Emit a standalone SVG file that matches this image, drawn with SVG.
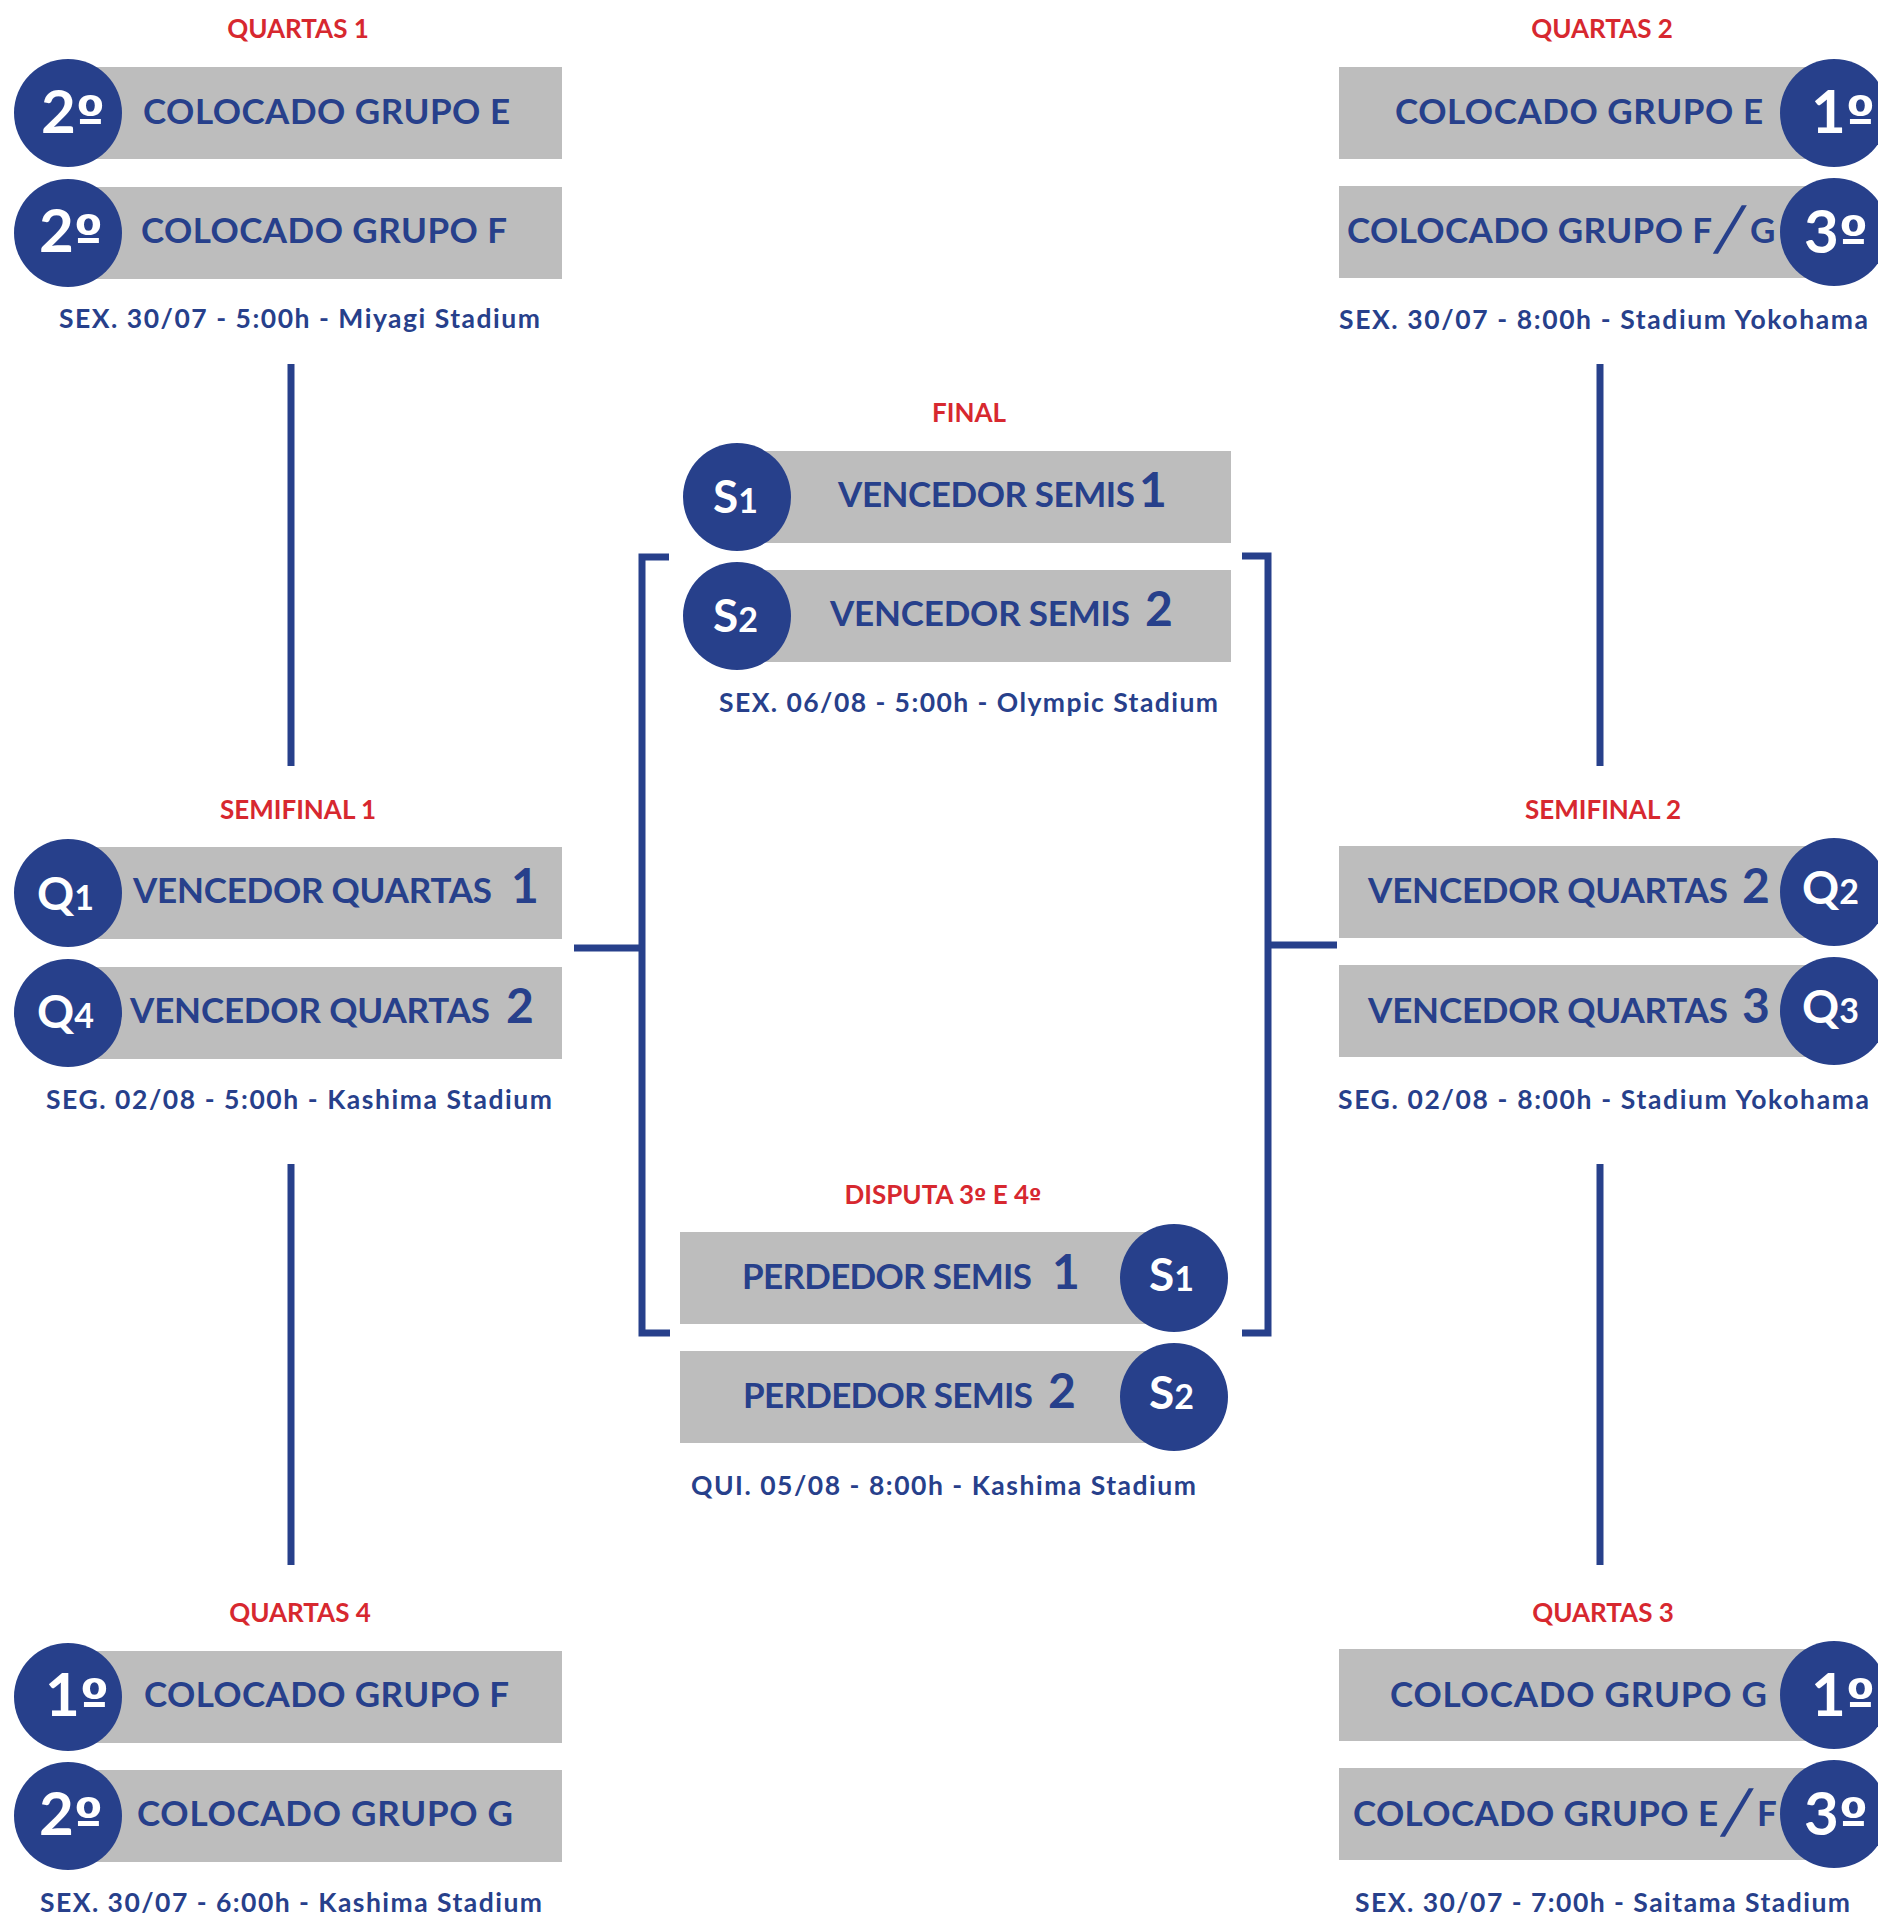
<svg xmlns="http://www.w3.org/2000/svg" width="1878" height="1922" viewBox="0 0 1878 1922">
<style>
.bg{fill:#ffffff}
.bar{fill:#bdbdbd}
.dot{fill:#27408b}
.hd{font-family:Lato,"Liberation Sans",sans-serif;font-weight:700;font-size:26px;fill:#d7282f;text-anchor:middle}
.hdo{font-family:"DejaVu Sans",sans-serif;font-size:22px}
.lb{font-family:Lato,"Liberation Sans",sans-serif;font-weight:700;font-size:35px;fill:#27408b}
.big{font-family:Lato,"Liberation Sans",sans-serif;font-weight:700;font-size:48px;fill:#27408b}
.sl{font-family:"Liberation Sans",sans-serif;font-weight:400;font-size:66px;fill:#27408b}
.dt{font-family:Lato,"Liberation Sans",sans-serif;font-weight:700;font-size:26.5px;fill:#27408b}
.ci{font-family:Lato,"Liberation Sans",sans-serif;font-weight:700;font-size:60px;fill:#ffffff}
.ord{font-family:"DejaVu Sans",Lato,sans-serif;font-weight:700;font-size:52px}
.cs{font-family:Lato,"Liberation Sans",sans-serif;font-weight:700;font-size:46px;fill:#ffffff}
.sub{font-size:34px}
.ln{fill:none;stroke:#27408b;stroke-width:7}
</style>
<rect class="bg" x="0" y="0" width="1878" height="1922"/>

<g id="connectors">
<path class="ln" d="M291,364 V766"/>
<path class="ln" d="M291,1164 V1565"/>
<path class="ln" d="M1600,364 V766"/>
<path class="ln" d="M1600,1164 V1565"/>
<path class="ln" d="M669,557 H642 V1333 H670"/>
<path class="ln" d="M574,948 H642"/>
<path class="ln" d="M1242,556 H1268 V1333 H1242"/>
<path class="ln" d="M1268,945 H1337"/>
</g>

<g id="quartas1">
<text class="hd" x="298" y="38">QUARTAS 1</text>
<rect class="bar" x="68" y="67" width="494" height="92"/>
<circle class="dot" cx="68" cy="113" r="54"/>
<text class="ci" x="41" y="133">2<tspan class="ord">º</tspan></text>
<text class="lb" x="143" y="124" textLength="367" lengthAdjust="spacing">COLOCADO GRUPO E</text>
<rect class="bar" x="68" y="187" width="494" height="92"/>
<circle class="dot" cx="68" cy="233" r="54"/>
<text class="ci" x="39" y="252">2<tspan class="ord">º</tspan></text>
<text class="lb" x="141" y="243" textLength="366" lengthAdjust="spacing">COLOCADO GRUPO F</text>
<text class="dt" x="59" y="328" textLength="481" lengthAdjust="spacing">SEX. 30/07 - 5:00h - Miyagi Stadium</text>
</g>

<g id="quartas2">
<text class="hd" x="1602" y="38">QUARTAS 2</text>
<rect class="bar" x="1339" y="67" width="495" height="92"/>
<circle class="dot" cx="1834" cy="113" r="54"/>
<text class="ci" x="1811" y="133">1<tspan class="ord">º</tspan></text>
<text class="lb" x="1395" y="124" textLength="368" lengthAdjust="spacing">COLOCADO GRUPO E</text>
<rect class="bar" x="1339" y="186" width="495" height="92"/>
<circle class="dot" cx="1834" cy="232" r="54"/>
<text class="ci" x="1804" y="253">3<tspan class="ord">º</tspan></text>
<text class="lb" x="1347" y="243" textLength="365" lengthAdjust="spacing">COLOCADO GRUPO F</text>
<text class="sl" transform="translate(1713,253) skewX(-18)">/</text>
<text class="lb" x="1750" y="243">G</text>
<text class="dt" x="1339" y="329" textLength="529" lengthAdjust="spacing">SEX. 30/07 - 8:00h - Stadium Yokohama</text>
</g>

<g id="final">
<text class="hd" x="969" y="422">FINAL</text>
<rect class="bar" x="737" y="451" width="494" height="92"/>
<circle class="dot" cx="737" cy="497" r="54"/>
<text class="cs" x="713" y="513">S<tspan class="sub">1</tspan></text>
<text class="lb" x="838" y="507" textLength="297" lengthAdjust="spacing">VENCEDOR SEMIS</text>
<text class="big" x="1139" y="507">1</text>
<rect class="bar" x="737" y="570" width="494" height="92"/>
<circle class="dot" cx="737" cy="616" r="54"/>
<text class="cs" x="713" y="632">S<tspan class="sub">2</tspan></text>
<text class="lb" x="830" y="626" textLength="300" lengthAdjust="spacing">VENCEDOR SEMIS</text>
<text class="big" x="1145" y="626">2</text>
<text class="dt" x="719" y="712" textLength="499" lengthAdjust="spacing">SEX. 06/08 - 5:00h - Olympic Stadium</text>
</g>

<g id="semifinal1">
<text class="hd" x="298" y="819">SEMIFINAL 1</text>
<rect class="bar" x="68" y="847" width="494" height="92"/>
<circle class="dot" cx="68" cy="893" r="54"/>
<text class="cs" x="37" y="910">Q<tspan class="sub">1</tspan></text>
<text class="lb" x="133" y="903" textLength="359" lengthAdjust="spacing">VENCEDOR QUARTAS</text>
<text class="big" x="511" y="903">1</text>
<rect class="bar" x="68" y="967" width="494" height="92"/>
<circle class="dot" cx="68" cy="1013" r="54"/>
<text class="cs" x="37" y="1028">Q<tspan class="sub">4</tspan></text>
<text class="lb" x="130" y="1023" textLength="360" lengthAdjust="spacing">VENCEDOR QUARTAS</text>
<text class="big" x="506" y="1023">2</text>
<text class="dt" x="46" y="1109" textLength="506" lengthAdjust="spacing">SEG. 02/08 - 5:00h - Kashima Stadium</text>
</g>

<g id="semifinal2">
<text class="hd" x="1603" y="819">SEMIFINAL 2</text>
<rect class="bar" x="1339" y="846" width="495" height="92"/>
<circle class="dot" cx="1834" cy="892" r="54"/>
<text class="cs" x="1802" y="904">Q<tspan class="sub">2</tspan></text>
<text class="lb" x="1368" y="903" textLength="360" lengthAdjust="spacing">VENCEDOR QUARTAS</text>
<text class="big" x="1742" y="903">2</text>
<rect class="bar" x="1339" y="965" width="495" height="92"/>
<circle class="dot" cx="1834" cy="1011" r="54"/>
<text class="cs" x="1802" y="1023">Q<tspan class="sub">3</tspan></text>
<text class="lb" x="1368" y="1023" textLength="360" lengthAdjust="spacing">VENCEDOR QUARTAS</text>
<text class="big" x="1742" y="1023">3</text>
<text class="dt" x="1338" y="1109" textLength="531" lengthAdjust="spacing">SEG. 02/08 - 8:00h - Stadium Yokohama</text>
</g>

<g id="disputa3">
<text class="hd" x="943" y="1204">DISPUTA 3<tspan class="hdo">º</tspan> E 4<tspan class="hdo">º</tspan></text>
<rect class="bar" x="680" y="1232" width="494" height="92"/>
<circle class="dot" cx="1174" cy="1278" r="54"/>
<text class="cs" x="1149" y="1291">S<tspan class="sub">1</tspan></text>
<text class="lb" x="742" y="1289" textLength="290" lengthAdjust="spacing">PERDEDOR SEMIS</text>
<text class="big" x="1052" y="1289">1</text>
<rect class="bar" x="680" y="1351" width="494" height="92"/>
<circle class="dot" cx="1174" cy="1397" r="54"/>
<text class="cs" x="1149" y="1409">S<tspan class="sub">2</tspan></text>
<text class="lb" x="743" y="1408" textLength="290" lengthAdjust="spacing">PERDEDOR SEMIS</text>
<text class="big" x="1048" y="1408">2</text>
<text class="dt" x="691" y="1495" textLength="505" lengthAdjust="spacing">QUI. 05/08 - 8:00h - Kashima Stadium</text>
</g>

<g id="quartas4">
<text class="hd" x="300" y="1622">QUARTAS 4</text>
<rect class="bar" x="68" y="1651" width="494" height="92"/>
<circle class="dot" cx="68" cy="1697" r="54"/>
<text class="ci" x="45" y="1716">1<tspan class="ord">º</tspan></text>
<text class="lb" x="144" y="1707" textLength="365" lengthAdjust="spacing">COLOCADO GRUPO F</text>
<rect class="bar" x="68" y="1770" width="494" height="92"/>
<circle class="dot" cx="68" cy="1816" r="54"/>
<text class="ci" x="39" y="1835">2<tspan class="ord">º</tspan></text>
<text class="lb" x="137" y="1826" textLength="376" lengthAdjust="spacing">COLOCADO GRUPO G</text>
<text class="dt" x="40" y="1912" textLength="502" lengthAdjust="spacing">SEX. 30/07 - 6:00h - Kashima Stadium</text>
</g>

<g id="quartas3">
<text class="hd" x="1603" y="1622">QUARTAS 3</text>
<rect class="bar" x="1339" y="1649" width="495" height="92"/>
<circle class="dot" cx="1834" cy="1695" r="54"/>
<text class="ci" x="1811" y="1716">1<tspan class="ord">º</tspan></text>
<text class="lb" x="1390" y="1707" textLength="377" lengthAdjust="spacing">COLOCADO GRUPO G</text>
<rect class="bar" x="1339" y="1768" width="495" height="92"/>
<circle class="dot" cx="1834" cy="1814" r="54"/>
<text class="ci" x="1804" y="1835">3<tspan class="ord">º</tspan></text>
<text class="lb" x="1353" y="1826" textLength="365" lengthAdjust="spacing">COLOCADO GRUPO E</text>
<text class="sl" transform="translate(1720,1836) skewX(-18)">/</text>
<text class="lb" x="1757" y="1826">F</text>
<text class="dt" x="1355" y="1912" textLength="495" lengthAdjust="spacing">SEX. 30/07 - 7:00h - Saitama Stadium</text>
</g>
</svg>
